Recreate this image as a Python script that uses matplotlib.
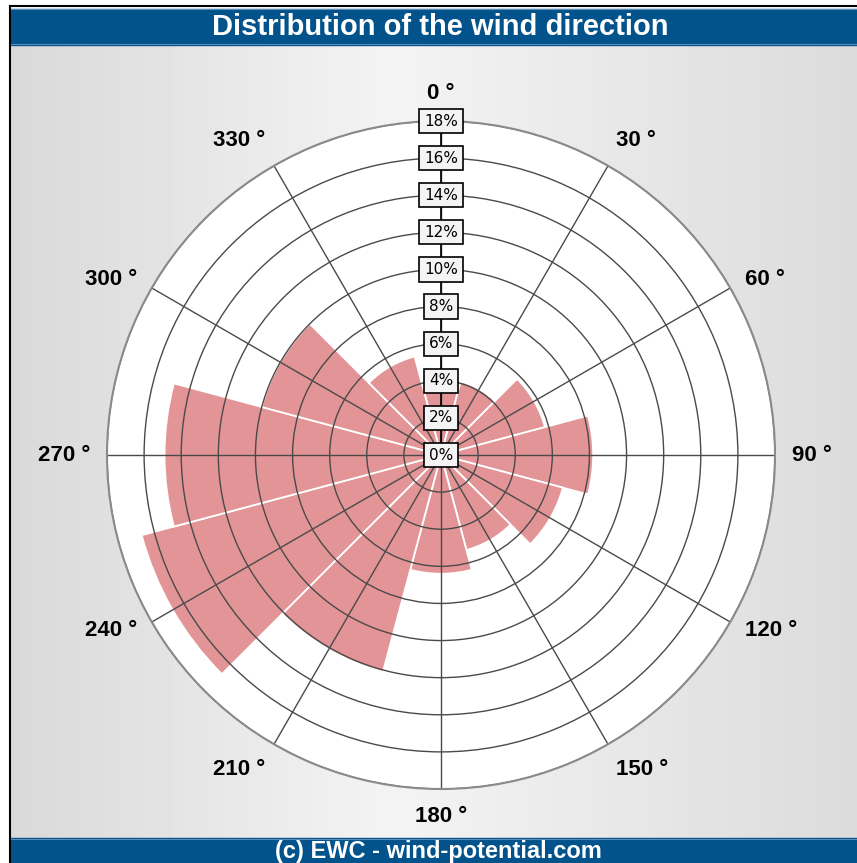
import numpy as np
import matplotlib
matplotlib.use("Agg")
import matplotlib.pyplot as plt
from matplotlib.patches import Rectangle
from matplotlib.lines import Line2D

# wind direction sectors (deg) and share of time (%)
directions = [0, 30, 60, 90, 120, 150, 180, 210, 240, 270, 300, 330]
frequency = [3.5, 4.1, 5.8, 8.2, 6.8, 5.3, 6.4, 12.1, 16.7, 14.9, 10.0, 5.5]
ring_levels = [0, 2, 4, 6, 8, 10, 12, 14, 16, 18]
title = "Distribution of the wind direction"
footer = "(c) EWC - wind-potential.com"

plt.rcParams['font.family'] = ['Liberation Sans', 'DejaVu Sans']

W, H = 857, 863
fig = plt.figure(figsize=(W / 100, H / 100), dpi=100)


def fx(px):
    return px / W


def fy(py):
    return 1 - py / H


# grey gradient background
bg = fig.add_axes([fx(11), fy(838), 1 - fx(11), fy(45) - fy(838)])
grad = np.interp(np.linspace(0, 1, 256), [0, 0.45, 1], [0.85, 0.955, 0.86])
bg.imshow(np.tile(grad, (2, 1)), cmap='gray', vmin=0, vmax=1, aspect='auto', extent=[0, 1, 0, 1])
bg.axis('off')

# header / footer bars
blue = '#02528b'
fig.add_artist(Rectangle((fx(11), fy(45)), 1 - fx(11), fy(9) - fy(45), transform=fig.transFigure,
                         color=blue, zorder=2))
fig.add_artist(Rectangle((fx(11), 0), 1 - fx(11), fy(838), transform=fig.transFigure,
                         color=blue, zorder=2))
for yy in [9.5, 44.5, 838.5]:
    fig.add_artist(Line2D([fx(11), 1], [fy(yy), fy(yy)], color='#5b8dbb', lw=0.8, zorder=3))
fig.add_artist(Line2D([fx(9.5), fx(9.5)], [fy(6.5), 0], color='black', lw=1.5, zorder=3))
fig.add_artist(Line2D([fx(9.5), 1], [fy(6.5), fy(6.5)], color='black', lw=1.5, zorder=3))

fig.text(fx(440), fy(27), title, color='white', fontsize=21, fontweight='bold',
         ha='center', va='center', zorder=4)
fig.text(fx(438), fy(851), footer, color='white', fontsize=17, fontweight='bold',
         ha='center', va='center', zorder=4)

# wind rose
ax = fig.add_axes([fx(441 - 334), fy(455 + 334), 668 / W, 668 / H], projection='polar')
ax.set_theta_zero_location('N')
ax.set_theta_direction(-1)
ax.set_facecolor('white')

theta = np.deg2rad(directions)
ax.bar(theta, frequency, width=np.deg2rad(30), color='#e39496', edgecolor='white',
       linewidth=1.3, zorder=1)

ax.set_ylim(0, 18)
ax.set_rticks(ring_levels[1:])
ax.set_yticklabels([])
ax.set_thetagrids(directions, labels=[])
ax.tick_params(length=0)
ax.grid(True, color='#4a4a4a', lw=1)
ax.spines['polar'].set_color('#8a8a8a')
ax.spines['polar'].set_linewidth(1.5)

ax.plot([0, 0], [0, 18], color='black', lw=1.2, zorder=4)
for r in ring_levels:
    ax.text(0, r, f"{r}%", ha='center', va='center', fontsize=11, family='DejaVu Sans',
            bbox=dict(boxstyle='square,pad=0.3', fc='#f4f4f4', ec='black', lw=1.2), zorder=5)

for d in directions:
    t = np.deg2rad(d)
    s, c = np.sin(t), np.cos(t)
    ha = 'left' if s > 0.3 else ('right' if s < -0.3 else 'center')
    va = 'bottom' if c > 0.7 else ('top' if c < -0.7 else 'center')
    ax.text(t, 18.9, f"{d} °", fontsize=16, fontweight='bold', ha=ha, va=va, clip_on=False)

fig.savefig('out.png', dpi=100)
